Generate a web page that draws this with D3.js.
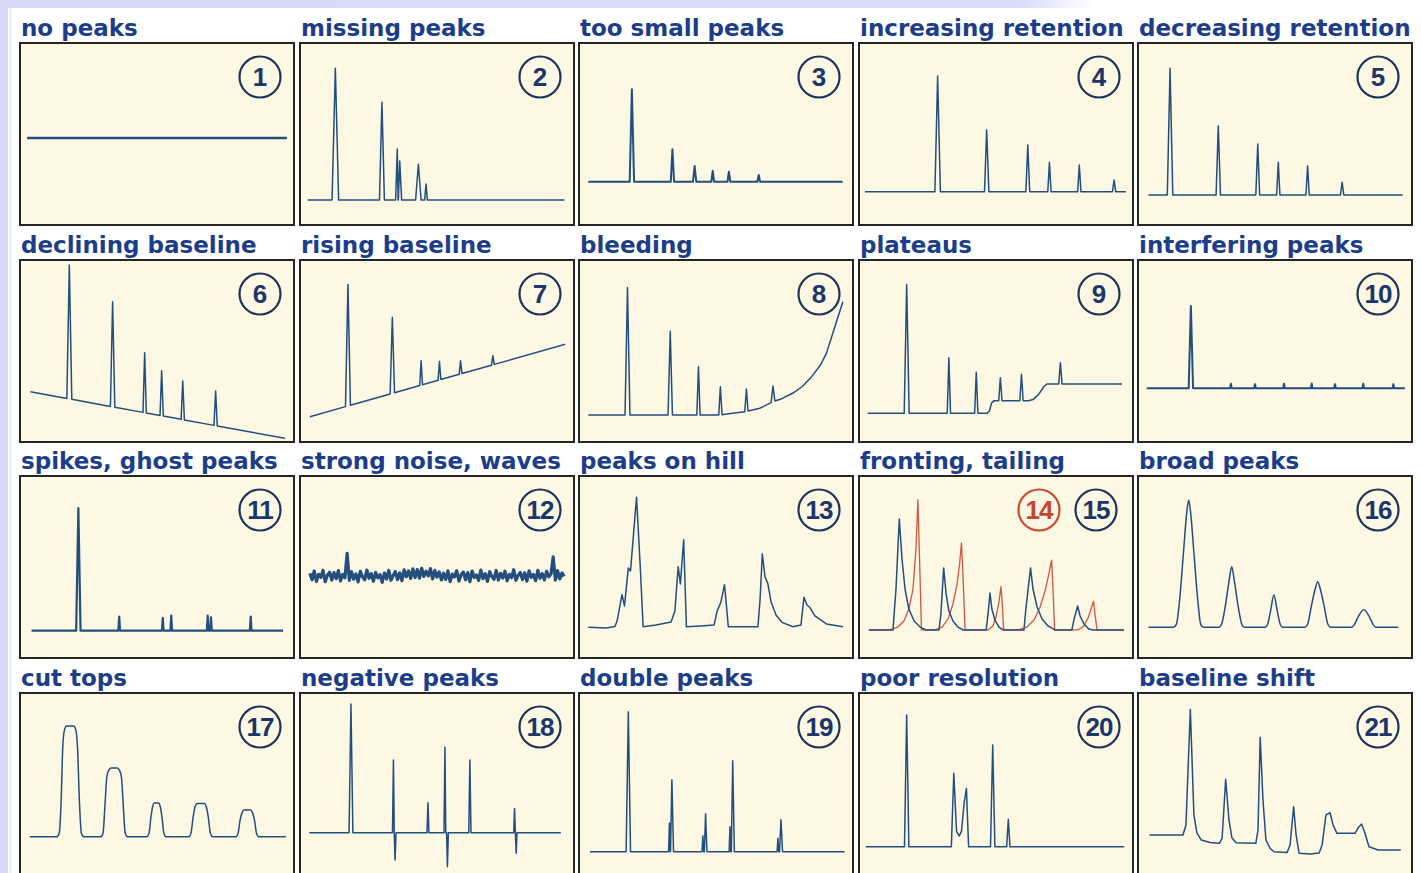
<!DOCTYPE html>
<html>
<head>
<meta charset="utf-8">
<script src="https://cdn.jsdelivr.net/npm/d3@7"></script>
<style>
  html, body { margin: 0; padding: 0; background: #ffffff; }
  svg { display: block; }
</style>
</head>
<body>
<svg id="chart" width="1421" height="873"></svg>
<script>
// ---- Panel titles and badge numbers ----
const titles = [
  "no peaks", "missing peaks", "too small peaks", "increasing retention", "decreasing retention",
  "declining baseline", "rising baseline", "bleeding", "plateaus", "interfering peaks",
  "spikes, ghost peaks", "strong noise, waves", "peaks on hill", "fronting, tailing", "broad peaks",
  "cut tops", "negative peaks", "double peaks", "poor resolution", "baseline shift"
];
const badges = [
  ["1"], ["2"], ["3"], ["4"], ["5"],
  ["6"], ["7"], ["8"], ["9"], ["10"],
  ["11"], ["12"], ["13"], ["14", "15"], ["16"],
  ["17"], ["18"], ["19"], ["20"], ["21"]
];

// ---- Chromatogram data: time (0-100) and signal (0-100) ----
// Baselines are [time, signal] knots; peaks are [time, apex signal, left half-width, right half-width].
const base01 = [[2.6, 47.8], [97.4, 47.8]];
const peaks01 = [];

const base02 = [[2.8, 13.7], [96.5, 13.7]];
const peaks02 = [[12.9, 86.1, 1.2, 1.2], [29.9, 67.4, 0.9, 0.9], [35.5, 41.8, 0.6, 0.3], [36.4, 35.2, 0.5, 0.7], [43.2, 33.4, 1.0, 1.0], [46.0, 22.5, 0.5, 0.5]];

const base03 = [[3.4, 23.8], [96.2, 23.8]];
const peaks03 = [[19.3, 74.6, 0.8, 0.8], [34.1, 41.6, 0.6, 0.6], [42.2, 32.4, 0.6, 0.6], [48.8, 29.8, 0.5, 0.5], [54.7, 29.3, 0.5, 0.5], [65.6, 27.5, 0.5, 0.5]];

const base04 = [[2.2, 18.3], [97.4, 18.3]];
const peaks04 = [[28.7, 81.9, 1.0, 1.0], [46.6, 52.2, 0.8, 0.8], [61.6, 44.0, 0.7, 0.7], [69.5, 34.5, 0.6, 0.6], [80.4, 33.0, 0.6, 0.6], [93.1, 24.7, 0.6, 0.6]];

const base05 = [[3.8, 16.5], [96.6, 16.5]];
const peaks05 = [[11.7, 86.1, 1.0, 1.0], [29.3, 54.4, 0.8, 0.8], [43.7, 44.5, 0.7, 0.7], [51.2, 34.5, 0.6, 0.6], [61.9, 32.4, 0.6, 0.6], [74.5, 23.5, 0.6, 0.6]];

const base06 = [[3.8, 27.6], [96.7, 2.0]];
const peaks06 = [[18.0, 97.3, 0.9, 0.9], [33.8, 77.1, 0.8, 0.8], [45.5, 49.1, 0.6, 0.6], [51.7, 39.2, 0.6, 0.6], [59.4, 33.5, 0.6, 0.6], [71.4, 28.0, 0.6, 0.6]];

const base07 = [[3.6, 13.9], [96.8, 53.7]];
const peaks07 = [[17.5, 86.6, 0.9, 0.9], [33.7, 68.5, 0.8, 0.8], [44.2, 44.7, 0.5, 0.5], [50.9, 44.2, 0.5, 0.5], [58.6, 44.7, 0.5, 0.5], [70.4, 47.4, 0.5, 0.5]];

const base08 = [[3.4, 14.8], [51.1, 14.8], [56.0, 15.8], [60.5, 16.6], [66.0, 18.5], [70.7, 22.1], [74.0, 23.8], [78.1, 26.9], [81.5, 30.5], [84.9, 35.9], [88.0, 42.0], [90.3, 48.7], [93.0, 61.5], [96.3, 77.1]];
const peaks08 = [[17.7, 84.9, 0.9, 0.9], [33.3, 60.9, 0.8, 0.8], [43.6, 41.4, 0.6, 0.6], [51.6, 30.4, 0.6, 0.6], [61.1, 29.1, 0.6, 0.6], [70.8, 30.8, 0.7, 0.7]];

const base09 = [[3.2, 15.8], [46.8, 15.8], [47.6, 17.0], [48.4, 21.5], [49.3, 22.7], [61.9, 22.7], [63.5, 23.3], [65.5, 26.0], [67.5, 30.5], [68.7, 31.9], [96.0, 31.9]];
const peaks09 = [[17.4, 86.6, 0.9, 0.9], [32.8, 46.3, 0.6, 0.6], [42.8, 38.3, 0.6, 0.6], [51.6, 35.3, 0.6, 0.6], [59.3, 37.2, 0.6, 0.6], [73.5, 43.6, 0.6, 0.6]];

const base10 = [[3.2, 29.5], [97.4, 29.5]];
const peaks10 = [[19.3, 74.7, 0.8, 0.8], [33.9, 32.0, 0.3, 0.3], [42.7, 31.8, 0.3, 0.3], [53.3, 32.0, 0.3, 0.3], [63.4, 32.2, 0.3, 0.3], [71.9, 31.8, 0.3, 0.3], [82.2, 32.0, 0.3, 0.3], [93.2, 31.8, 0.3, 0.3]];

const base11 = [[4.2, 15.0], [96.0, 15.0]];
const peaks11 = [[21.3, 82.4, 0.8, 0.8], [36.2, 22.7, 0.3, 0.3], [52.1, 22.0, 0.3, 0.3], [55.2, 23.3, 0.3, 0.3], [68.5, 23.3, 0.3, 0.3], [69.7, 22.3, 0.3, 0.3], [84.2, 22.7, 0.3, 0.3]];

// Strong noise: evenly sampled detector signal
const noise12Start = 3.6;
const noise12Step = 0.8;
const noise12 = [
  46.5, 43.0, 47.8, 42.1, 46.0, 44.3, 48.2, 41.9, 45.5, 47.1,
  42.8, 46.9, 43.6, 48.0, 42.4, 45.9, 44.1, 57.5, 42.6, 47.4,
  43.3, 46.2, 41.8, 47.6, 44.7, 42.9, 48.3, 43.8, 46.4, 42.2,
  47.0, 44.0, 45.8, 41.6, 46.7, 43.4, 48.1, 42.7, 45.3, 47.5,
  43.1, 46.8, 42.5, 48.4, 44.6, 47.9, 43.7, 49.0, 44.2, 48.6,
  43.9, 49.3, 44.8, 47.7, 45.1, 49.1, 43.5, 48.2, 44.4, 47.3,
  42.9, 46.6, 43.2, 47.9, 42.0, 46.1, 44.5, 48.0, 42.3, 45.7,
  47.2, 43.0, 46.9, 41.9, 47.8, 44.2, 45.6, 42.6, 48.3, 43.6,
  46.3, 42.1, 47.4, 44.9, 43.2, 48.1, 42.8, 46.5, 43.9, 47.7,
  42.4, 46.0, 44.1, 48.5, 42.7, 45.4, 47.0, 43.1, 46.8, 42.2,
  47.9, 44.3, 45.9, 42.5, 48.2, 43.8, 46.4, 42.9, 47.6, 44.6,
  46.1, 55.6, 42.8, 48.0, 43.5, 46.7, 44.9
];

const trace13 = [
  [3.4, 16.9], [9.9, 16.5], [13.1, 17.3], [13.9, 20.3], [15.7, 34.8], [16.6, 28.6], [18.0, 49.5], [18.8, 47.8],
  [21.0, 88.3], [22.4, 48.9], [23.4, 17.2], [28.1, 18.1], [33.6, 19.8], [35.0, 25.8], [36.2, 50.2], [37.0, 40.7],
  [38.2, 65.0], [39.2, 17.2], [44.5, 17.6], [49.3, 18.1], [50.4, 25.8], [51.1, 28.2], [51.8, 30.8], [53.1, 40.3],
  [54.5, 17.2], [65.3, 17.2], [66.1, 32.4], [66.9, 57.1], [67.9, 44.5], [68.9, 41.0], [70.1, 30.8], [71.9, 23.6],
  [74.1, 19.6], [78.1, 17.2], [81.0, 18.1], [82.1, 33.4], [83.2, 29.1], [84.2, 27.9], [86.1, 23.1], [90.3, 18.7],
  [96.3, 17.2]
];

// Fronting peaks (14)
const trace14 = [
  [3.6, 15.4], [11.3, 15.4], [14.2, 17.0], [16.4, 20.3], [18.2, 26.9], [19.7, 37.9], [20.8, 59.9], [21.5, 87.0],
  [22.1, 54.4], [22.8, 15.4], [27.7, 15.4], [30.3, 17.0], [32.5, 21.4], [34.3, 29.7], [35.8, 40.7], [36.7, 51.6],
  [37.4, 63.2], [38.0, 43.4], [38.7, 15.4], [47.1, 15.4], [48.9, 17.6], [50.0, 22.5], [51.1, 30.8], [51.8, 39.2],
  [52.3, 29.7], [52.8, 15.4], [58.0, 15.4], [61.3, 17.0], [63.9, 20.9], [66.1, 28.0], [67.9, 36.8], [69.3, 46.2],
  [70.3, 53.8], [70.8, 37.9], [71.4, 15.4], [79.9, 15.4], [82.1, 17.6], [83.6, 22.0], [84.7, 26.9], [85.6, 31.2],
  [86.1, 24.2], [86.9, 15.4], [96.7, 15.4]
];

// Tailing peaks (15)
const trace15 = [
  [3.6, 15.4], [12.4, 15.4], [13.5, 37.9], [14.7, 76.4], [15.7, 54.4], [16.8, 37.9], [18.2, 26.9], [20.1, 20.3],
  [22.3, 17.0], [24.5, 15.4], [29.2, 15.4], [29.9, 24.2], [30.9, 49.5], [31.8, 35.2], [32.8, 25.8], [34.3, 20.3],
  [36.1, 17.0], [38.0, 15.4], [46.4, 15.4], [47.1, 24.2], [47.8, 35.7], [48.5, 26.9], [49.6, 20.9], [51.1, 17.0],
  [52.6, 15.4], [60.2, 15.4], [60.9, 26.9], [62.6, 49.5], [63.5, 37.9], [65.0, 28.0], [66.8, 21.4], [69.0, 17.6],
  [71.5, 15.4], [77.7, 15.4], [78.5, 21.4], [79.8, 28.6], [80.7, 23.1], [82.1, 18.7], [83.9, 15.9], [85.4, 15.4],
  [96.7, 15.4]
];

const trace16 = [
  [3.8, 16.9], [13.0, 16.9], [14.0, 18.5], [15.2, 32.0], [16.6, 58.0], [17.8, 80.0], [18.5, 86.8], [19.2, 80.0],
  [20.4, 58.0], [21.8, 32.0], [22.9, 18.5], [23.9, 16.9],
  [29.6, 16.9], [30.5, 18.5], [31.8, 28.0], [33.2, 42.0], [34.2, 50.2], [35.2, 42.0], [36.6, 28.0], [37.9, 18.5], [38.8, 16.9],
  [46.5, 16.9], [47.3, 18.5], [48.4, 26.0], [49.6, 34.6], [50.8, 26.0], [51.9, 18.5], [52.7, 16.9],
  [61.0, 16.9], [61.9, 18.5], [63.2, 28.0], [64.6, 37.5], [65.6, 41.9], [66.6, 37.5], [68.0, 28.0], [69.3, 18.5], [70.2, 16.9],
  [78.0, 16.9], [78.9, 18.2], [80.3, 22.5], [82.4, 26.5], [84.5, 22.5], [85.9, 18.2], [86.8, 16.9], [95.0, 16.9]
];

const trace17 = [
  [3.6, 21.0], [13.4, 21.0], [14.3, 23.0], [15.0, 40.0], [15.6, 70.0], [16.2, 79.5], [17.0, 81.9], [19.6, 81.9],
  [20.4, 79.5], [21.0, 70.0], [21.7, 40.0], [22.4, 23.0], [23.3, 21.0],
  [29.4, 21.0], [30.3, 23.0], [31.0, 38.0], [31.7, 54.0], [32.4, 57.5], [33.2, 58.8], [35.5, 58.8], [36.3, 57.5],
  [37.0, 54.0], [37.7, 38.0], [38.4, 23.0], [39.3, 21.0],
  [46.3, 21.0], [47.1, 23.0], [47.8, 32.0], [48.4, 37.5], [49.0, 39.6], [50.6, 39.6], [51.2, 37.5], [51.8, 32.0],
  [52.5, 23.0], [53.3, 21.0],
  [61.6, 21.0], [62.4, 23.0], [63.2, 32.0], [63.9, 37.5], [64.6, 39.3], [67.3, 39.3], [68.0, 37.5], [68.7, 32.0],
  [69.5, 23.0], [70.3, 21.0],
  [78.8, 21.0], [79.6, 23.0], [80.3, 30.0], [81.0, 34.0], [81.7, 35.7], [84.2, 35.7], [84.9, 34.0], [85.6, 30.0],
  [86.3, 23.0], [87.1, 21.0], [97.0, 21.0]
];

const base18 = [[3.4, 23.2], [95.2, 23.2]];
const peaks18 = [[18.6, 94.0, 0.7, 0.7], [34.1, 63.2, 0.35, 0.3], [34.7, 8.2, 0.3, 0.35], [46.7, 39.7, 0.35, 0.35], [52.9, 70.2, 0.35, 0.3], [53.8, 4.6, 0.3, 0.35], [62.0, 63.2, 0.4, 0.4], [78.3, 36.6, 0.3, 0.3], [78.9, 11.9, 0.3, 0.3]];

const base19 = [[4.0, 12.8], [96.9, 12.8]];
const peaks19 = [[18.0, 89.7, 0.8, 0.8], [33.0, 28.6, 0.3, 0.3], [33.9, 52.4, 0.5, 0.6], [45.2, 21.6, 0.3, 0.3], [46.2, 33.6, 0.45, 0.5], [55.1, 26.5, 0.3, 0.3], [56.1, 62.8, 0.5, 0.6], [72.6, 20.2, 0.3, 0.3], [73.7, 30.4, 0.5, 0.6]];

const trace20 = [
  [2.5, 15.5], [16.6, 15.5], [17.4, 87.9], [18.2, 15.5], [33.7, 15.5], [34.6, 55.9], [35.6, 24.0], [36.6, 21.5],
  [37.4, 24.0], [38.4, 40.0], [39.2, 47.6], [40.0, 15.5], [48.0, 15.5], [48.8, 71.4], [49.6, 15.5], [53.9, 15.5],
  [54.5, 30.6], [55.1, 15.5], [96.8, 15.5]
];

const trace21 = [
  [4.2, 22.0], [16.4, 22.0], [17.5, 27.5], [19.1, 91.0], [20.4, 33.0], [21.5, 23.1], [23.1, 19.2], [26.3, 17.9],
  [29.7, 17.4], [30.7, 20.3], [32.0, 52.6], [33.2, 30.2], [34.3, 20.3], [35.8, 17.7], [43.0, 17.4], [43.8, 24.7],
  [44.6, 75.7], [45.6, 41.2], [46.7, 19.2], [48.2, 14.7], [49.6, 12.8], [54.4, 12.3], [55.5, 16.5], [56.8, 37.5],
  [57.7, 22.0], [58.8, 11.9], [62.8, 11.5], [66.1, 12.1], [67.2, 16.5], [68.6, 33.0], [70.1, 34.2], [71.2, 27.5],
  [72.6, 22.9], [79.2, 22.9], [80.3, 25.8], [81.6, 28.0], [82.8, 23.1], [84.3, 15.5], [87.6, 13.7], [95.9, 13.7]
];

// ---- Drawing ----
const W = 1421, H = 873;
const NAVY = "#234e7e", RED = "#d2553d";
const panelW = 274, panelH = 182;
const colX = d3.range(5).map(i => Math.round(20 + i * 279.6));
const rowY = d3.range(4).map(j => Math.round(43 + j * 216.6));

// Build a trace from baseline knots plus peak triangles sitting on that baseline
function peakTrace(baseline, peaks) {
  const base = d3.scaleLinear(baseline.map(d => d[0]), baseline.map(d => d[1])).clamp(true);
  const pts = baseline
    .filter(k => !peaks.some(p => k[0] > p[0] - p[2] && k[0] < p[0] + p[3]))
    .map(k => [k[0], k[1], 0]);
  peaks.forEach(p => {
    pts.push([p[0] - p[2], base(p[0] - p[2]), 1]);
    pts.push([p[0], p[1], 2]);
    pts.push([p[0] + p[3], base(p[0] + p[3]), 3]);
  });
  pts.sort((a, b) => a[0] - b[0] || a[2] - b[2]);
  return pts.map(d => [d[0], d[1]]);
}

function sampledTrace(values, start, step) {
  return values.map((v, i) => [start + i * step, v]);
}

const series = [
  [{ pts: peakTrace(base01, peaks01), w: 2.6 }],
  [{ pts: peakTrace(base02, peaks02) }],
  [{ pts: peakTrace(base03, peaks03), w: 2.0 }],
  [{ pts: peakTrace(base04, peaks04) }],
  [{ pts: peakTrace(base05, peaks05) }],
  [{ pts: peakTrace(base06, peaks06) }],
  [{ pts: peakTrace(base07, peaks07) }],
  [{ pts: peakTrace(base08, peaks08) }],
  [{ pts: peakTrace(base09, peaks09) }],
  [{ pts: peakTrace(base10, peaks10), w: 2.0 }],
  [{ pts: peakTrace(base11, peaks11), w: 2.2 }],
  [{ pts: sampledTrace(noise12, noise12Start, noise12Step), w: 3.2 }],
  [{ pts: trace13 }],
  [{ pts: trace14, color: RED, w: 1.3 }, { pts: trace15 }],
  [{ pts: trace16, curve: d3.curveMonotoneX }],
  [{ pts: trace17, curve: d3.curveMonotoneX }],
  [{ pts: peakTrace(base18, peaks18) }],
  [{ pts: peakTrace(base19, peaks19) }],
  [{ pts: trace20 }],
  [{ pts: trace21 }]
];

const svg = d3.select("#chart");
const defs = svg.append("defs");
const fade = defs.append("linearGradient").attr("id", "topFade")
  .attr("x1", 0).attr("x2", 1).attr("y1", 0).attr("y2", 0);
fade.append("stop").attr("offset", "0%").attr("stop-color", "#d9d9f7");
fade.append("stop").attr("offset", "72%").attr("stop-color", "#dcdcf8");
fade.append("stop").attr("offset", "77%").attr("stop-color", "#ffffff");

svg.append("rect").attr("width", W).attr("height", H).attr("fill", "#ffffff");
svg.append("rect").attr("width", W).attr("height", 8).attr("fill", "url(#topFade)");
svg.append("rect").attr("width", 8).attr("height", H).attr("fill", "#d9d9f7");
svg.append("line").attr("x1", 10.5).attr("x2", 10.5).attr("y1", 8).attr("y2", H)
  .attr("stroke", "#ececf3").attr("stroke-width", 2);

titles.forEach((title, i) => {
  const col = i % 5, row = Math.floor(i / 5);
  const x0 = colX[col], y0 = rowY[row];
  const x = d3.scaleLinear([0, 100], [x0, x0 + panelW]);
  const y = d3.scaleLinear([0, 100], [y0 + panelH, y0]);
  const g = svg.append("g");

  g.append("text")
    .attr("x", x0 + 1).attr("y", y0 - 7)
    .attr("font-family", "'DejaVu Sans', Verdana, sans-serif")
    .attr("font-weight", "bold").attr("font-size", 23)
    .attr("fill", "#1c3d8a")
    .text(title);

  g.append("rect")
    .attr("x", x0).attr("y", y0).attr("width", panelW).attr("height", panelH)
    .attr("fill", "#fdf8e3").attr("stroke", "#262626").attr("stroke-width", 2);

  const clipId = "clip" + i;
  defs.append("clipPath").attr("id", clipId).append("rect")
    .attr("x", x0 + 1).attr("y", y0 + 1).attr("width", panelW - 2).attr("height", panelH - 2);

  const tg = g.append("g").attr("clip-path", `url(#${clipId})`);
  series[i].forEach(s => {
    const line = d3.line().x(d => x(d[0])).y(d => y(d[1])).curve(s.curve || d3.curveLinear);
    tg.append("path")
      .attr("d", line(s.pts))
      .attr("fill", "none")
      .attr("stroke", s.color || NAVY)
      .attr("stroke-width", s.w || 1.5)
      .attr("stroke-linejoin", "round");
  });

  const labels = badges[i];
  labels.forEach((lab, k) => {
    const offset = labels.length === 1 ? 34 : (k === 0 ? 94 : 37);
    const cx = x0 + panelW - offset, cy = y0 + 34;
    const col2 = labels.length === 2 && k === 0 ? "#cc4a33" : "#1e3358";
    g.append("circle").attr("cx", cx).attr("cy", cy).attr("r", 20.5)
      .attr("fill", "none").attr("stroke", col2).attr("stroke-width", 2.2);
    g.append("text").attr("x", cx).attr("y", cy + 9)
      .attr("text-anchor", "middle")
      .attr("font-family", "'Liberation Sans', Arial, sans-serif")
      .attr("font-weight", "bold").attr("font-size", 26)
      .attr("letter-spacing", lab.length > 1 ? -1 : 0)
      .attr("fill", labels.length === 2 && k === 0 ? "#c8442c" : "#1b3668")
      .text(lab);
  });
});
</script>
</body>
</html>
